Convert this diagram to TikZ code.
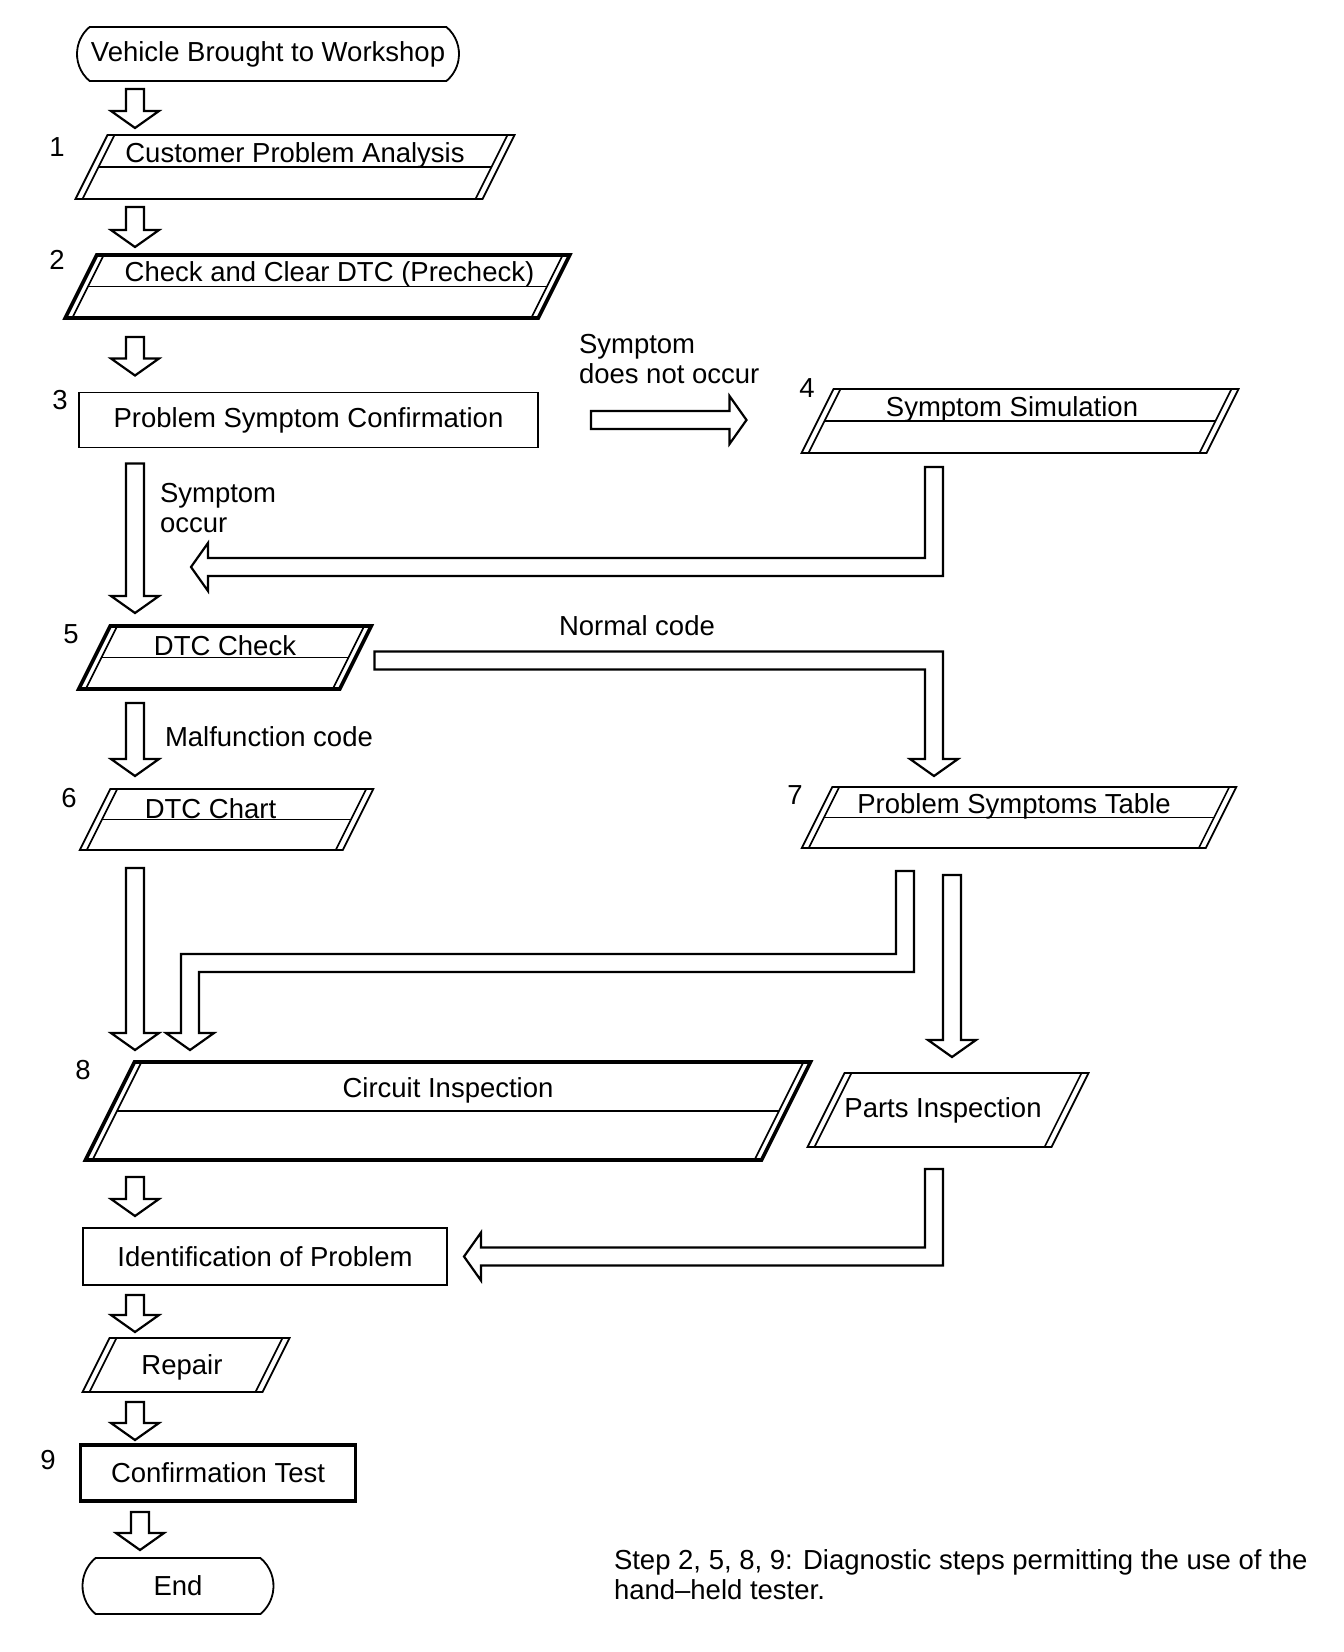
\documentclass[tikz,border=0pt]{standalone}
\usepackage{fontspec}
\setmainfont{Liberation Sans}
\usetikzlibrary{calc,shapes.misc}
\newcommand{\dfont}{\fontsize{27.5}{30}\selectfont}
\tikzset{
  >=latex,
}
\tikzstyle{every node}=[font=\dfont, inner sep=0pt, outer sep=0pt]
\tikzstyle{thinbox}=[draw, line width=1.8pt]
\tikzstyle{heavybox}=[draw, line width=3.6pt]
\tikzstyle{sideline}=[draw, line width=1.6pt]
\tikzstyle{bandtext}=[yshift=-4pt]
\tikzstyle{hollow}=[draw, line width=2.2pt, line join=miter, fill=white]

% slanted box: style, name, centre, width, height
\newcommand{\slantbox}[5]{
  \node[minimum width=#4, minimum height=#5] (#2) at #3 {};
  \draw[#1] ([xshift=#5/4]#2.north west) -- ([xshift=#5/4]#2.north east)
    -- ([xshift=-#5/4]#2.south east) -- ([xshift=-#5/4]#2.south west) -- cycle;
  \draw[sideline] ([xshift=#5/4+7]#2.north west) -- ([xshift=-#5/4+7]#2.south west);
  \draw[sideline] ([xshift=#5/4-7]#2.north east) -- ([xshift=-#5/4-7]#2.south east);
}
\newcommand{\divider}[1]{\draw[sideline] ([xshift=7]#1.west) -- ([xshift=-7]#1.east);}

% hollow block arrows: tail, tip
\newcommand{\arrdown}[2]{
  \draw[hollow] let \p1=#1, \p2=#2 in
    (\x1-9pt,\y1) -- (\x1+9pt,\y1) -- (\x1+9pt,\y2+17pt) -- (\x1+24pt,\y2+17pt)
    -- (\x1,\y2) -- (\x1-24pt,\y2+17pt) -- (\x1-9pt,\y2+17pt) -- cycle;}
\newcommand{\arrright}[2]{
  \draw[hollow] let \p1=#1, \p2=#2 in
    (\x1,\y1+9pt) -- (\x2-17pt,\y1+9pt) -- (\x2-17pt,\y1+24pt) -- (\x2,\y1)
    -- (\x2-17pt,\y1-24pt) -- (\x2-17pt,\y1-9pt) -- (\x1,\y1-9pt) -- cycle;}
\newcommand{\arrdownleft}[2]{
  \draw[hollow] let \p1=#1, \p2=#2 in
    (\x1-9pt,\y1) -- (\x1+9pt,\y1) -- (\x1+9pt,\y2-9pt) -- (\x2+17pt,\y2-9pt)
    -- (\x2+17pt,\y2-24pt) -- (\x2,\y2) -- (\x2+17pt,\y2+24pt) -- (\x2+17pt,\y2+9pt)
    -- (\x1-9pt,\y2+9pt) -- cycle;}
\newcommand{\arrrightdown}[2]{
  \draw[hollow] let \p1=#1, \p2=#2 in
    (\x1,\y1+9pt) -- (\x2+9pt,\y1+9pt) -- (\x2+9pt,\y2+17pt) -- (\x2+24pt,\y2+17pt)
    -- (\x2,\y2) -- (\x2-24pt,\y2+17pt) -- (\x2-9pt,\y2+17pt) -- (\x2-9pt,\y1-9pt)
    -- (\x1,\y1-9pt) -- cycle;}
% tail, bend level, tip
\newcommand{\arrdownleftdown}[3]{
  \draw[hollow] let \p1=#1, \p2=#3, \p3=#2 in
    (\x1-9pt,\y1) -- (\x1+9pt,\y1) -- (\x1+9pt,\y3-9pt) -- (\x2+9pt,\y3-9pt)
    -- (\x2+9pt,\y2+17pt) -- (\x2+24pt,\y2+17pt) -- (\x2,\y2) -- (\x2-24pt,\y2+17pt)
    -- (\x2-9pt,\y2+17pt) -- (\x2-9pt,\y3+9pt) -- (\x1-9pt,\y3+9pt) -- cycle;}

\begin{document}
\begin{tikzpicture}[x=1pt,y=-1pt]
  \useasboundingbox (0,0) rectangle (1344,1652);
  \coordinate (colL) at (135,0);
  \coordinate (colB) at (140,0);
  \coordinate (colM) at (190,0);
  \coordinate (col78) at (905,0);
  \coordinate (colR) at (934,0);
  \coordinate (colP) at (952,0);
  \coordinate (bend78) at (0,963);
  \coordinate (simtip) at (191,567);

  % boxes
  \node[thinbox, rounded rectangle, rounded rectangle arc length=100, inner xsep=-5pt,
    minimum width=372, minimum height=54] (veh) at (268,54) {Vehicle Brought to Workshop};
  \slantbox{thinbox}{cpa}{(295,167)}{407}{64}
  \divider{cpa}
  \slantbox{heavybox}{ccd}{(317.5,286.5)}{473}{63}
  \divider{ccd}
  \node[thinbox, minimum width=459, minimum height=55] (psc) at (308.5,420) {Problem Symptom Confirmation};
  \slantbox{thinbox}{sim}{(1020,421)}{405}{64}
  \divider{sim}
  \slantbox{heavybox}{dtcc}{(225,657.5)}{261}{63}
  \divider{dtcc}
  \slantbox{thinbox}{dtch}{(226.5,819.5)}{263}{61}
  \divider{dtch}
  \slantbox{thinbox}{pst}{(1019,817.5)}{404}{61}
  \divider{pst}
  \slantbox{heavybox}{circ}{(448,1111)}{676}{98}
  \divider{circ}
  \slantbox{thinbox}{parts}{(948,1110)}{244}{74}
  \node[thinbox, minimum width=364, minimum height=57] (ident) at (265,1256.5) {Identification of Problem};
  \slantbox{thinbox}{rep}{(186,1365)}{180}{54}
  \node[heavybox, minimum width=275, minimum height=56] (conf) at (218,1473) {Confirmation Test};
  \node[thinbox, rounded rectangle, rounded rectangle arc length=100,
    minimum width=191, minimum height=56] (fin) at (178,1586) {End};

  % box texts
  \node[bandtext] (cpat) at ($(cpa.north)!.5!(cpa.center)$) {Customer Problem Analysis};
  \node[bandtext, xshift=12] (ccdt) at ($(ccd.north)!.5!(ccd.center)$) {Check and Clear DTC (Precheck)};
  \node[bandtext, xshift=-8] (simt) at ($(sim.north)!.5!(sim.center)$) {Symptom Simulation};
  \node[bandtext] (dtcct) at ($(dtcc.north)!.5!(dtcc.center)$) {DTC Check};
  \node[bandtext, xshift=-16] (dtcht) at ($(dtch.north)!.5!(dtch.center)$) {DTC Chart};
  \node[bandtext, xshift=-5] (pstt) at ($(pst.north)!.5!(pst.center)$) {Problem Symptoms Table};
  \node[bandtext] (circt) at ($(circ.north)!.5!(circ.center)$) {Circuit Inspection};
  \node[xshift=-5] (partst) at (parts.center) {Parts Inspection};
  \node[xshift=-4, yshift=-2] (rept) at (rep.center) {Repair};

  % step numbers
  \node (n1) at (57,147) {1};
  \node (n2) at (57,260) {2};
  \node (n3) at (60,400) {3};
  \node (n4) at (807,388) {4};
  \node (n5) at (71,634) {5};
  \node (n6) at (69,798) {6};
  \node (n7) at (795,795) {7};
  \node (n8) at (83,1070) {8};
  \node (n9) at (48,1460) {9};

  % arrows
  \arrdown{($(veh.south -| colL)+(0,8)$)}{($(cpa.north -| colL)+(0,-7)$)}
  \arrdown{($(cpa.south -| colL)+(0,8)$)}{($(ccd.north -| colL)+(0,-8)$)}
  \arrdown{($(ccd.south -| colL)+(0,19)$)}{($(psc.north -| colL)+(0,-17)$)}
  \arrright{($(psc.east)+(53,0)$)}{($(sim.west |- psc.east)+(-71,0)$)}
  \arrdown{($(psc.south -| colL)+(0,16)$)}{($(dtcc.north -| colL)+(0,-13)$)}
  \arrdownleft{($(sim.south -| colR)+(0,14)$)}{(simtip)}
  \arrrightdown{($(dtcc.east)+(19,3)$)}{($(pst.north -| colR)+(0,-11)$)}
  \arrdown{($(dtcc.south -| colL)+(0,14)$)}{($(dtch.north -| colL)+(0,-13)$)}
  \arrdown{($(dtch.south -| colL)+(0,18)$)}{($(circ.north -| colL)+(0,-12)$)}
  \arrdownleftdown{($(pst.south -| col78)+(0,23)$)}{(bend78)}{($(circ.north -| colM)+(0,-12)$)}
  \arrdown{($(pst.south -| colP)+(0,27)$)}{($(parts.north -| colP)+(0,-16)$)}
  \arrdown{($(circ.south -| colL)+(0,17)$)}{($(ident.north -| colL)+(0,-12)$)}
  \arrdownleft{($(parts.south -| colR)+(0,22)$)}{($(ident.east)+(17,0)$)}
  \arrdown{($(ident.south -| colL)+(0,10)$)}{($(rep.north -| colL)+(0,-6)$)}
  \arrdown{($(rep.south -| colL)+(0,10)$)}{($(conf.north -| colL)+(0,-5)$)}
  \arrdown{($(conf.south -| colB)+(0,11)$)}{($(fin.north -| colB)+(0,-8)$)}

  % arrow labels
  \node[anchor=west, align=left] (nocc) at (579,359) {Symptom\\does not occur};
  \node[anchor=west, align=left] (occ) at (160,508) {Symptom\\occur};
  \node[anchor=west] (norm) at (559,626) {Normal code};
  \node[anchor=west] (malf) at (165,737) {Malfunction code};
  \node[anchor=west, align=left] (note) at (614,1575) {Step 2, 5, 8, 9: Diagnostic steps permitting the use of the\\hand--held tester.};
\end{tikzpicture}
\end{document}
